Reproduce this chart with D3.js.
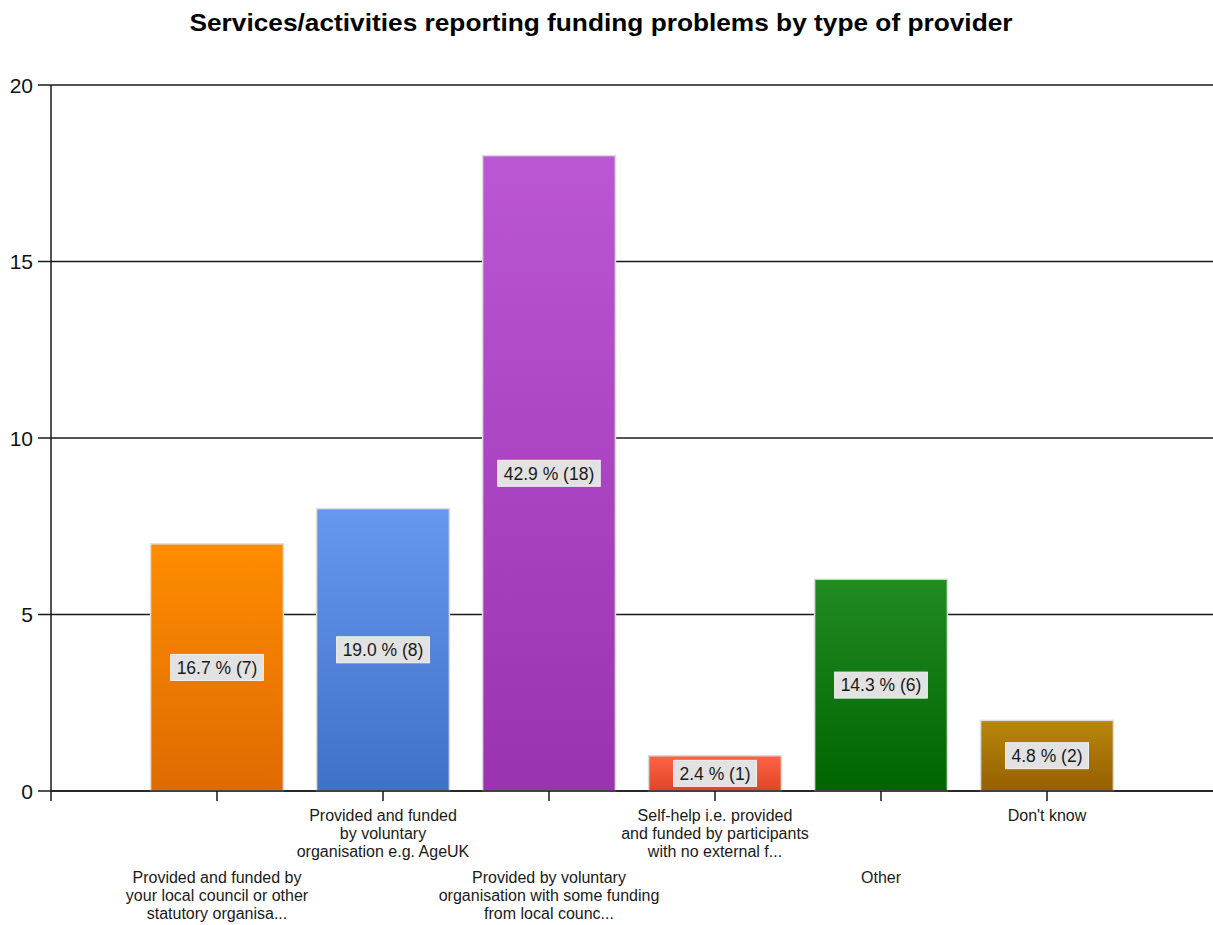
<!DOCTYPE html>
<html>
<head>
<meta charset="utf-8">
<script src="https://cdn.jsdelivr.net/npm/d3@7/dist/d3.min.js"></script>
<style>
  html, body { margin: 0; padding: 0; background: #fff; }
  svg { display: block; }
</style>
</head>
<body>
<svg id="chart" width="1213" height="925"></svg>
<script>
const title = "Services/activities reporting funding problems by type of provider";
const categories = [
  "Provided and funded by your local council or other statutory organisa...",
  "Provided and funded by voluntary organisation e.g. AgeUK",
  "Provided by voluntary organisation with some funding from local counc...",
  "Self-help i.e. provided and funded by participants with no external f...",
  "Other",
  "Don't know"
];
const categoryLines = [
  ["Provided and funded by", "your local council or other", "statutory organisa..."],
  ["Provided and funded", "by voluntary", "organisation e.g. AgeUK"],
  ["Provided by voluntary", "organisation with some funding", "from local counc..."],
  ["Self-help i.e. provided", "and funded by participants", "with no external f..."],
  ["Other"],
  ["Don't know"]
];
const counts = [7, 8, 18, 1, 6, 2];
const percents = [16.7, 19.0, 42.9, 2.4, 14.3, 4.8];
const yTicks = [0, 5, 10, 15, 20];
const colorsTop = ["#ff8c00", "#6797ee", "#bb56d4", "#ff6347", "#228b22", "#b8860b"];
const colorsBottom = ["#e06a00", "#4170c8", "#9933b0", "#e04525", "#006400", "#966000"];

(function() {
const svg = d3.select("#chart");
const mLeft = 51, mRight = 1213, mTop = 85, mBottom = 791;

const x = d3.scaleBand().domain(categories).range([mLeft, mRight]).paddingInner(0.2).paddingOuter(0.6);
const y = d3.scaleLinear().domain([0, 20]).range([mBottom, mTop]);

const defs = svg.append("defs");
categories.forEach((c, i) => {
  const g = defs.append("linearGradient").attr("id", "g" + i)
    .attr("x1", 0).attr("y1", 0).attr("x2", 0).attr("y2", 1);
  g.append("stop").attr("offset", "0%").attr("stop-color", colorsTop[i]);
  g.append("stop").attr("offset", "100%").attr("stop-color", colorsBottom[i]);
});

svg.append("text").attr("x", 601).attr("y", 31).attr("text-anchor", "middle")
  .attr("font-family", "Liberation Sans, Arial, sans-serif").attr("font-weight", "bold")
  .attr("font-size", 24).attr("fill", "#000")
  .attr("textLength", 823).attr("lengthAdjust", "spacingAndGlyphs")
  .text(title);

svg.append("g").selectAll("line").data(yTicks).join("line")
  .attr("x1", 38).attr("x2", mRight).attr("y1", d => y(d)).attr("y2", d => y(d))
  .attr("stroke", "#1a1a1a").attr("stroke-width", 1.5);

svg.append("g").selectAll("text").data(yTicks).join("text")
  .attr("x", 33).attr("y", d => y(d)).attr("dy", "0.36em").attr("text-anchor", "end")
  .attr("font-family", "Liberation Sans, Arial, sans-serif").attr("font-size", 21)
  .attr("fill", "#111").text(d => d);

svg.append("g").selectAll("rect").data(categories).join("rect")
  .attr("x", d => x(d)).attr("width", x.bandwidth())
  .attr("y", (d, i) => y(counts[i])).attr("height", (d, i) => y(0) - y(counts[i]))
  .attr("fill", (d, i) => `url(#g${i})`)
  .attr("stroke", "#dcdcdc").attr("stroke-width", 1.5);

svg.append("line").attr("x1", mLeft).attr("x2", mRight).attr("y1", mBottom).attr("y2", mBottom)
  .attr("stroke", "#1a1a1a").attr("stroke-width", 1.5);
svg.append("line").attr("x1", mLeft).attr("x2", mLeft).attr("y1", mTop).attr("y2", mBottom + 10)
  .attr("stroke", "#1a1a1a").attr("stroke-width", 1.5);
svg.append("g").selectAll("line").data(categories).join("line")
  .attr("x1", d => x(d) + x.bandwidth() / 2).attr("x2", d => x(d) + x.bandwidth() / 2)
  .attr("y1", mBottom).attr("y2", mBottom + 10)
  .attr("stroke", "#1a1a1a").attr("stroke-width", 1.5);

const lab = svg.append("g").selectAll("g").data(categories).join("g")
  .attr("transform", (d, i) => `translate(${x(d) + x.bandwidth() / 2},${(y(counts[i]) + y(0)) / 2})`);
lab.append("text").attr("text-anchor", "middle").attr("dy", "0.36em")
  .attr("font-family", "Liberation Sans, Arial, sans-serif").attr("font-size", 17.5)
  .attr("fill", "#1a1a1a")
  .text((d, i) => `${percents[i].toFixed(1)} % (${counts[i]})`);
lab.each(function() {
  const g = d3.select(this);
  const w = g.select("text").node().getComputedTextLength();
  g.insert("rect", "text").attr("x", -w / 2 - 6).attr("y", -13).attr("width", w + 12).attr("height", 26)
    .attr("fill", "#e2e2e2").attr("stroke", "#f2f2f2");
});

const cl = svg.append("g").selectAll("text").data(categories).join("text")
  .attr("x", d => x(d) + x.bandwidth() / 2)
  .attr("y", (d, i) => i % 2 === 0 ? 883 : 821)
  .attr("text-anchor", "middle")
  .attr("font-family", "Liberation Sans, Arial, sans-serif").attr("font-size", 16)
  .attr("fill", "#1a1a1a");
cl.each(function(d, i) {
  const t = d3.select(this);
  categoryLines[i].forEach((ln, j) => {
    t.append("tspan").attr("x", x(d) + x.bandwidth() / 2).attr("dy", j === 0 ? 0 : 18).text(ln);
  });
});
})();
</script>
</body>
</html>
